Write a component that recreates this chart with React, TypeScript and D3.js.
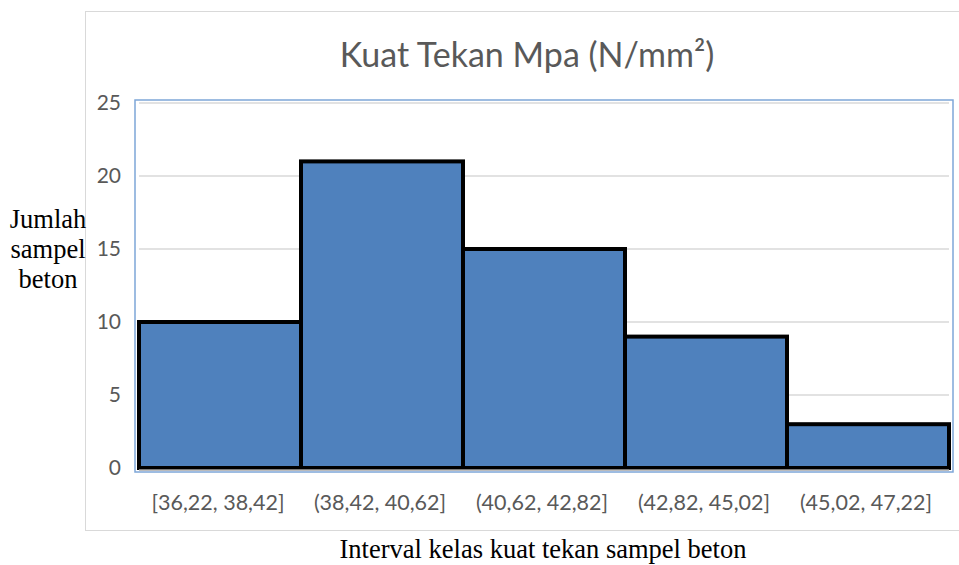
import React from "react";
import * as d3 from "d3";

const categories = ["[36,22, 38,42]", "(38,42, 40,62]", "(40,62, 42,82]", "(42,82, 45,02]", "(45,02, 47,22]"];
const counts = [10, 21, 15, 9, 3];
const yTicks = [0, 5, 10, 15, 20, 25];
const title = "Kuat Tekan Mpa (N/mm²)";
const yTitleLines = ["Jumlah", "sampel", "beton"];
const xTitle = "Interval kelas kuat tekan sampel beton";

export default function App() {
  const W = 959, H = 565;
  const left = 139, right = 949, top = 103, bottom = 468;
  const x = d3.scaleBand<string>().domain(categories).range([left, right]).padding(0);
  const y = d3.scaleLinear().domain([0, 25]).range([bottom, top]);
  const labelFont = "Lato, 'Open Sans', sans-serif";
  const serif = "'Liberation Serif', 'DejaVu Serif', serif";
  return (
    <svg width={W} height={H} style={{ position: "absolute", left: 0, top: 0, background: "#fff" }}>
      <rect x={0} y={0} width={W} height={H} fill="#fff" />
      {/* outer chart frame */}
      <rect x={85.5} y={11.5} width={880} height={519} fill="#fff" stroke="#d9d9d9" strokeWidth={1} />
      <text x={527} y={67} textAnchor="middle" fontFamily={labelFont} fontSize={34} fill="#595959">{title}</text>
      {/* plot area selection border */}
      <rect x={135} y={100} width={818} height={372} fill="none" stroke="#7ea6d8" strokeWidth={1.5} />
      {/* gridlines */}
      {yTicks.map((t) => (
        <line key={t} x1={left} x2={right} y1={y(t)} y2={y(t)} stroke="#d9d9d9" strokeWidth={1.5} />
      ))}
      {/* bars */}
      {categories.map((c, i) => (
        <rect key={c} x={x(c)!} y={y(counts[i])} width={x.bandwidth()} height={bottom - y(counts[i])}
          fill="#4f81bd" stroke="#000" strokeWidth={4} />
      ))}
      <line x1={left} x2={right} y1={bottom + 2} y2={bottom + 2} stroke="#a6a6a6" strokeWidth={1.5} />
      {/* y tick labels */}
      {yTicks.map((t) => (
        <text key={t} x={121} y={y(t) + 7} textAnchor="end" fontFamily={labelFont} fontSize={21} fill="#595959">{t}</text>
      ))}
      {/* x tick labels */}
      {categories.map((c) => (
        <text key={c} x={x(c)! + x.bandwidth() / 2 - 2} y={510} textAnchor="middle" fontFamily={labelFont} fontSize={21.5} fill="#595959">{c}</text>
      ))}
      {/* y title */}
      {yTitleLines.map((l, i) => (
        <text key={l} x={48} y={228 + i * 30} textAnchor="middle" fontFamily={serif} fontSize={26.5} fill="#000">{l}</text>
      ))}
      <text x={543} y={558} textAnchor="middle" fontFamily={serif} fontSize={26.5} fill="#000">{xTitle}</text>
    </svg>
  );
}
